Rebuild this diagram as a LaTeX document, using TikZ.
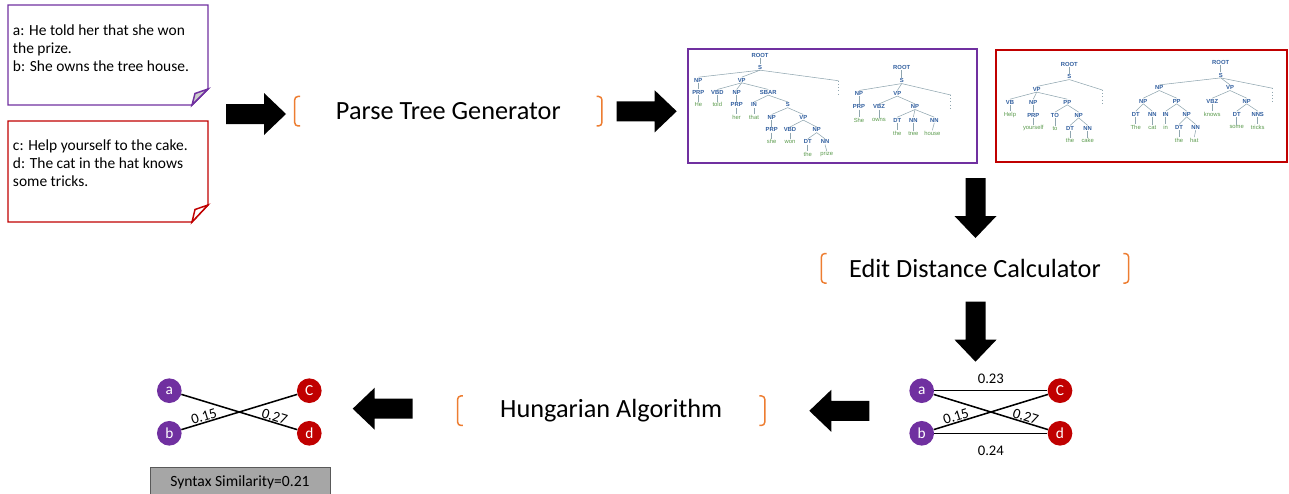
\documentclass[tikz,border=0pt]{standalone}
\usepackage{fontspec}
\setmainfont{Carlito}
\newfontfamily\treefont{Liberation Sans}
\usetikzlibrary{positioning,calc}
\definecolor{notepurple}{HTML}{7030A0}
\definecolor{notered}{HTML}{C00000}
\definecolor{bracketorange}{HTML}{ED7D31}
\definecolor{treeblue}{HTML}{2F5D9E}
\definecolor{treegreen}{HTML}{5A9A4C}
\definecolor{treeline}{HTML}{8FA5AF}
\definecolor{boxgray}{HTML}{A6A6A6}
\tikzset{
  stagebox/.style={minimum width=230pt, minimum height=21.75pt, inner sep=0pt, font=\fontsize{19.7}{23}\selectfont},
  stagebracket/.style={draw=bracketorange, line width=1.1pt, rounded corners=2.5pt},
  treetag/.style={inner sep=0.4pt, text=treeblue, font=\treefont\bfseries\fontsize{4.4}{5}\selectfont},
  treeword/.style={inner sep=0.4pt, text=treegreen, font=\treefont\fontsize{4.4}{5}\selectfont},
  treeedge/.style={draw=treeline, line width=0.4pt},
  sentA/.style={circle, fill=notepurple, text=white, minimum size=18.5pt, inner sep=0pt, font=\fontsize{11.5}{13}\selectfont},
  sentB/.style={sentA, fill=notered},
  pairedge/.style={draw=black, line width=1.15pt},
  pairlabel/.style={font=\fontsize{11}{13}\selectfont, inner sep=1pt},
  slopelabel/.style={pairlabel, sloped, above, inner sep=0.3pt},
  notetext/.style={anchor=north west, align=left, inner sep=0pt, font=\fontsize{11.6}{13.7}\selectfont},
  bigarrow/.pic={\fill (0,-10) -- (38,-10) -- (38,-21) -- (60,0) -- (38,21) -- (38,10) -- (0,10) -- cycle;}
}

\begin{document}
\begin{tikzpicture}[x=0.75pt, y=-0.75pt]
\useasboundingbox (0,0) rectangle (1289,493);

% input sentences
\draw[notepurple, line width=1.1pt] (8,5) -- (208,5) -- (208,89) -- (192,105) -- (8,105) -- cycle;
\filldraw[draw=notepurple, fill=gray!40, line width=1.1pt] (208,89) -- (195,93.5) -- (192,105) -- cycle;
\node[notetext] (noteab) at (12.7,24.2) {a: He told her that she won\\the prize.\\b: She owns the tree house.};

\draw[notered, line width=1.1pt] (8,121) -- (208,121) -- (208,205) -- (192,222) -- (8,222) -- cycle;
\filldraw[draw=notered, fill=white, line width=1.1pt] (208,205) -- (195,209.5) -- (192,222) -- cycle;
\node[notetext] (notecd) at (12.7,139) {c: Help yourself to the cake.\\d: The cat in the hat knows\\some tricks.};

% stages
\node[stagebox] (ptgen) at (448.3,111.2) {Parse Tree Generator};
\node[stagebox] (edcalc) at (975,268.3) {Edit Distance Calculator};
\node[stagebox] (hungalg) at (611.2,410.7) {Hungarian Algorithm};
\foreach \s in {ptgen,edcalc,hungalg}{
  \draw[stagebracket] ([xshift=4pt]\s.north west) -- (\s.north west) -- (\s.south west) -- ([xshift=4pt]\s.south west);
  \draw[stagebracket] ([xshift=-4pt]\s.north east) -- (\s.north east) -- (\s.south east) -- ([xshift=-4pt]\s.south east);
}

% block arrows
\pic at (226,114) {bigarrow};
\pic at (616.7,111.3) {bigarrow};
\pic[rotate=-90] at (975.5,178) {bigarrow};
\pic[rotate=-90] at (975.5,301.7) {bigarrow};
\pic[rotate=180] at (869.3,410.8) {bigarrow};
\pic[rotate=180] at (412.7,408.7) {bigarrow};

% parse trees, first pair
\draw[notepurple, line width=1.1pt] (688,49) rectangle (977,163);

\node[treetag] (t1root) at (760,55) {ROOT};
\node[treetag] (t1s) at (760,67.3) {S};
\node[treetag] (t1np) at (698.3,80) {NP};
\node[treetag] (t1vp) at (741.7,80) {VP};
\node[treetag] (t1prp) at (698.3,92.3) {PRP};
\node[treeword] (t1he) at (698.3,104.5) {He};
\node[treetag] (t1vbd) at (717.3,92.3) {VBD};
\node[treeword] (t1told) at (717.3,104.5) {told};
\node[treetag] (t1np2) at (736.7,92.3) {NP};
\node[treetag] (t1prp2) at (736.7,104.8) {PRP};
\node[treeword] (t1her) at (736.7,117.3) {her};
\node[treetag] (t1sbar) at (768.3,92.3) {SBAR};
\node[treetag] (t1in) at (754,104.8) {IN};
\node[treeword] (t1that) at (754,117.3) {that};
\node[treetag] (t1s2) at (787.7,104.8) {S};
\node[treetag] (t1np3) at (771.7,117.3) {NP};
\node[treetag] (t1prp3) at (771.7,129.8) {PRP};
\node[treeword] (t1she) at (771.7,141.7) {she};
\node[treetag] (t1vp2) at (803.3,117.3) {VP};
\node[treetag] (t1vbd2) at (790,129.8) {VBD};
\node[treeword] (t1won) at (790,141.7) {won};
\node[treetag] (t1np4) at (816.7,129.8) {NP};
\node[treetag] (t1dt) at (807.7,141.7) {DT};
\node[treeword] (t1the) at (807.7,154.3) {the};
\node[treetag] (t1nn) at (825,141.7) {NN};
\node[treeword] (t1prize) at (826.7,154.3) {prize};
\coordinate (t1dot) at (838.3,80.7);

\node[treetag] (t2root) at (901.7,67.3) {ROOT};
\node[treetag] (t2s) at (901.7,80.7) {S};
\node[treetag] (t2np) at (859,93.3) {NP};
\node[treetag] (t2vp) at (897.3,93.3) {VP};
\node[treetag] (t2prp) at (859,106.7) {PRP};
\node[treeword] (t2she) at (859,120) {She};
\node[treetag] (t2vbz) at (879,106.7) {VBZ};
\node[treeword] (t2owns) at (879,120) {owns};
\node[treetag] (t2np2) at (915,106.7) {NP};
\node[treetag] (t2dt) at (897.3,120) {DT};
\node[treeword] (t2the) at (897.3,133.3) {the};
\node[treetag] (t2nn) at (913.3,120) {NN};
\node[treeword] (t2tree) at (913.3,133.3) {tree};
\node[treetag] (t2nn2) at (934.3,120) {NN};
\node[treeword] (t2house) at (932.3,133.3) {house};
\coordinate (t2dot) at (950.7,95);

% parse trees, second pair
\draw[notered, line width=1.3pt] (996,50) rectangle (1287,162);

\node[treetag] (t3root) at (1069.3,64) {ROOT};
\node[treetag] (t3s) at (1069.3,76.7) {S};
\node[treetag] (t3vp) at (1036.7,89.3) {VP};
\node[treetag] (t3vb) at (1010,102) {VB};
\node[treeword] (t3help) at (1010,115) {Help};
\node[treetag] (t3np) at (1033.3,102) {NP};
\node[treetag] (t3prp) at (1033.3,115) {PRP};
\node[treeword] (t3yourself) at (1033.3,128.3) {yourself};
\node[treetag] (t3pp) at (1067.3,102) {PP};
\node[treetag] (t3to) at (1055,115) {TO};
\node[treeword] (t3tow) at (1055,128.3) {to};
\node[treetag] (t3np2) at (1078.7,115) {NP};
\node[treetag] (t3dt) at (1070,128.3) {DT};
\node[treeword] (t3the) at (1070,140.7) {the};
\node[treetag] (t3nn) at (1087.7,128.3) {NN};
\node[treeword] (t3cake) at (1087.7,140.7) {cake};
\coordinate (t3dot) at (1102.3,90);

\node[treetag] (t4root) at (1220.7,62.3) {ROOT};
\node[treetag] (t4s) at (1220.7,75) {S};
\node[treetag] (t4np) at (1159.3,87.7) {NP};
\node[treetag] (t4vp) at (1230,87.7) {VP};
\node[treetag] (t4np2) at (1143.3,101) {NP};
\node[treetag] (t4pp) at (1176.7,101) {PP};
\node[treetag] (t4vbz) at (1212.3,101) {VBZ};
\node[treetag] (t4np3) at (1246.7,101) {NP};
\node[treetag] (t4dt) at (1135.7,114) {DT};
\node[treeword] (t4the) at (1135.7,127.3) {The};
\node[treetag] (t4nn) at (1152.3,114) {NN};
\node[treeword] (t4cat) at (1152.3,127.3) {cat};
\node[treetag] (t4in) at (1165.7,114) {IN};
\node[treeword] (t4inw) at (1165.7,127.3) {in};
\node[treetag] (t4np4) at (1186.7,114) {NP};
\node[treetag] (t4dt2) at (1179,127.3) {DT};
\node[treeword] (t4the2) at (1179,140) {the};
\node[treetag] (t4nn2) at (1195.7,127.3) {NN};
\node[treeword] (t4hat) at (1194.3,140) {hat};
\node[treeword] (t4knows) at (1212.3,114) {knows};
\node[treetag] (t4dt3) at (1236.7,114) {DT};
\node[treeword] (t4some) at (1236.7,127.3) {some};
\node[treetag] (t4nns) at (1257.7,114) {NNS};
\node[treeword] (t4tricks) at (1257.7,127.3) {tricks};
\coordinate (t4dot) at (1272.7,88.3);

\foreach \p/\c in {t1root/t1s, t1s/t1np, t1s/t1vp, t1np/t1prp, t1prp/t1he, t1vp/t1vbd, t1vbd/t1told,
  t1vp/t1np2, t1np2/t1prp2, t1prp2/t1her, t1vp/t1sbar, t1sbar/t1in, t1in/t1that, t1sbar/t1s2,
  t1s2/t1np3, t1np3/t1prp3, t1prp3/t1she, t1s2/t1vp2, t1vp2/t1vbd2, t1vbd2/t1won, t1vp2/t1np4,
  t1np4/t1dt, t1dt/t1the, t1np4/t1nn, t1nn/t1prize,
  t2root/t2s, t2s/t2np, t2s/t2vp, t2np/t2prp, t2prp/t2she, t2vp/t2vbz, t2vbz/t2owns, t2vp/t2np2,
  t2np2/t2dt, t2dt/t2the, t2np2/t2nn, t2nn/t2tree, t2np2/t2nn2, t2nn2/t2house,
  t3root/t3s, t3s/t3vp, t3vp/t3vb, t3vb/t3help, t3vp/t3np, t3np/t3prp, t3prp/t3yourself, t3vp/t3pp,
  t3pp/t3to, t3to/t3tow, t3pp/t3np2, t3np2/t3dt, t3dt/t3the, t3np2/t3nn, t3nn/t3cake,
  t4root/t4s, t4s/t4np, t4s/t4vp, t4np/t4np2, t4np2/t4dt, t4dt/t4the, t4np2/t4nn, t4nn/t4cat,
  t4np/t4pp, t4pp/t4in, t4in/t4inw, t4pp/t4np4, t4np4/t4dt2, t4dt2/t4the2, t4np4/t4nn2, t4nn2/t4hat,
  t4vp/t4vbz, t4vbz/t4knows, t4vp/t4np3, t4np3/t4dt3, t4dt3/t4some, t4np3/t4nns, t4nns/t4tricks}
  \draw[treeedge] (\p.south) -- (\c.north);
\foreach \t in {t1,t2,t3,t4}{
  \draw[treeedge] (\t s.south) -- (\t dot);
  \draw[treeedge, dotted] (\t dot) -- ++(0,14);
}

% edit distances
\node[sentA] (ra) at (921.7,390.7) {a};
\node[sentA] (rb) at (921.7,433.3) {b};
\node[sentB] (rc) at (1060,390.7) {C};
\node[sentB] (rd) at (1060,433.3) {d};
\draw[pairedge] (ra) -- node[pairlabel, above=4pt] {0.23} (rc);
\draw[pairedge] (rb) -- node[pairlabel, below=8pt] {0.24} (rd);
\draw[pairedge] (ra) -- node[slopelabel, pos=0.79] {0.27} (rd);
\draw[pairedge] (rb) -- node[slopelabel, pos=0.21] {0.15} (rc);

% best matching
\node[sentA] (la) at (169.3,390.7) {a};
\node[sentA] (lb) at (169.3,433.3) {b};
\node[sentB] (lc) at (309.3,390.7) {C};
\node[sentB] (ld) at (309.3,433.3) {d};
\draw[pairedge] (la) -- node[slopelabel, pos=0.79] {0.27} (ld);
\draw[pairedge] (lb) -- node[slopelabel, pos=0.21] {0.15} (lc);

\node[draw=gray!70!black, fill=boxgray, minimum width=135pt, minimum height=22.7pt, inner sep=0pt,
  font=\fontsize{11.7}{14}\selectfont] (simbox) at (240,481.9) {Syntax Similarity=0.21};
\end{tikzpicture}
\end{document}
